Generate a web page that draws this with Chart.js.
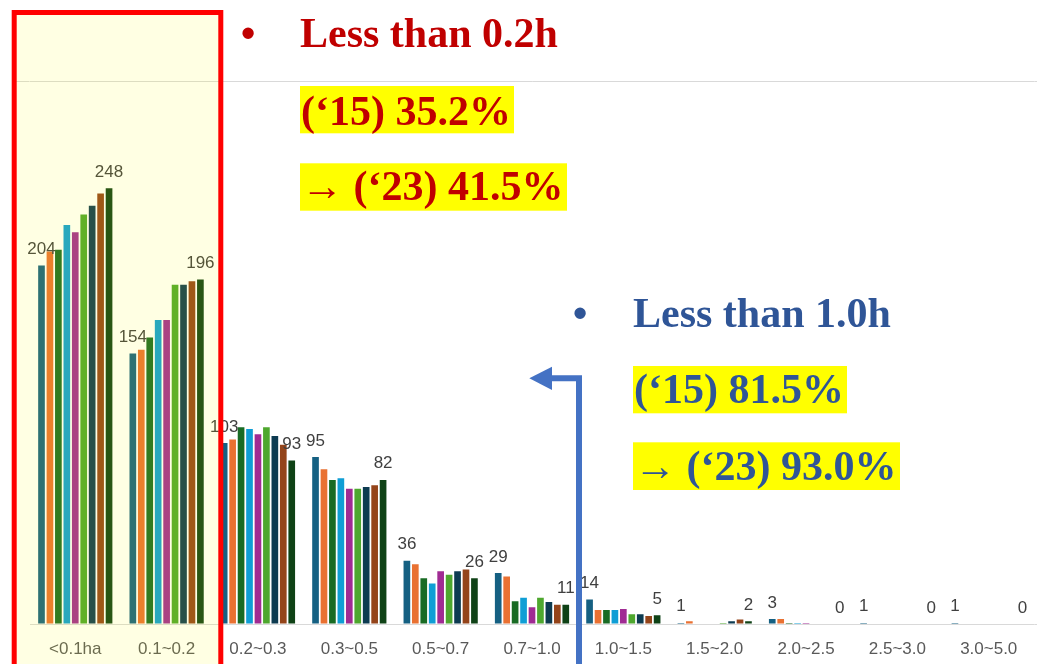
<!DOCTYPE html>
<html><head><meta charset="utf-8">
<script src="https://cdn.jsdelivr.net/npm/chart.js@4.4.1/dist/chart.umd.min.js"></script>
<style>html,body{margin:0;padding:0;background:#fff;overflow:hidden}canvas{display:block}</style>
</head><body>
<canvas id="c" width="1037" height="664"></canvas>
<script>
// ---- data ----
const categories = ['<0.1ha','0.1~0.2','0.2~0.3','0.3~0.5','0.5~0.7','0.7~1.0','1.0~1.5','1.5~2.0','2.0~2.5','2.5~3.0','3.0~5.0'];
const years = ['2015','2016','2017','2018','2019','2020','2021','2022','2023'];
const v2015 = [204,154,103,95,36,29,14,0.6,2.8,0.6,0.6];
const v2016 = [212,156,105,88,34,27,8,1.5,2.8,0,0];
const v2017 = [213,163,112,82,26,13,8,0,0.6,0,0];
const v2018 = [227,173,111,83,23,15,8,0,0.5,0,0];
const v2019 = [223,173,108,77,30,9.5,8.5,0,0.5,0,0];
const v2020 = [233,193,112,77,28,15,5.5,0.6,0,0,0];
const v2021 = [238,193,107,78,30,12.5,5.5,1.5,0,0,0];
const v2022 = [245,195,102,79,31,11,4.5,2.6,0,0,0];
const v2023 = [248,196,93,82,26,11,5,1.6,0,0,0];
const seriesValues = [v2015,v2016,v2017,v2018,v2019,v2020,v2021,v2022,v2023];
const seriesColors = ['#156082','#E97132','#196B24','#0F9ED5','#A02B93','#4EA72E','#0D3B51','#94441A','#0F4216'];
const yMax = 309;
const labeledSeries = [0, 8];
const redNotes = ['Less than 0.2h', '(\u201815) 35.2%', '\u2192 (\u201823) 41.5%'];
const blueNotes = ['Less than 1.0h', '(\u201815) 81.5%', '\u2192 (\u201823) 93.0%'];

// ---- plugins ----
const valueLabels = {
  id: 'valueLabels',
  afterDatasetsDraw(chart) {
    const ctx = chart.ctx;
    ctx.save();
    ctx.font = '17px "Liberation Sans", Arial, sans-serif';
    ctx.fillStyle = '#404040';
    ctx.textAlign = 'center';
    ctx.textBaseline = 'alphabetic';
    labeledSeries.forEach(di => {
      const meta = chart.getDatasetMeta(di);
      meta.data.forEach((bar, i) => {
        const v = chart.data.datasets[di].data[i];
        ctx.fillText(String(Math.round(v)), bar.x, bar.y - 11.5);
      });
    });
    ctx.restore();
  }
};

const overlay = {
  id: 'overlay',
  afterDraw(chart) {
    const ctx = chart.ctx;
    const ca = chart.chartArea;
    const yTop = Math.round(chart.scales.y.getPixelForValue(yMax)) + 0.5;
    const yBase = Math.round(chart.scales.y.getPixelForValue(0)) + 0.5;
    ctx.save();
    // gridline extensions
    ctx.strokeStyle = '#D9D9D9';
    ctx.lineWidth = 1;
    ctx.beginPath();
    ctx.moveTo(16, yTop); ctx.lineTo(ca.left, yTop);
    ctx.moveTo(ca.right, yTop); ctx.lineTo(1037, yTop);
    ctx.moveTo(ca.right, yBase); ctx.lineTo(1037, yBase);
    ctx.stroke();
    // highlighted region
    ctx.fillStyle = 'rgba(255,255,0,0.11)';
    ctx.fillRect(12, 10, 211, 700);
    ctx.strokeStyle = '#FF0000';
    ctx.lineWidth = 5;
    ctx.strokeRect(14.2, 12.5, 206.6, 700);

    // notes
    ctx.font = 'bold 42px "Liberation Serif", "Times New Roman", serif';
    ctx.textBaseline = 'alphabetic';
    // red
    ctx.fillStyle = '#FFFF00';
    ctx.fillRect(300, 86, 214, 47.3);
    ctx.fillRect(300, 163.3, 267, 47.4);
    ctx.fillStyle = '#C00000';
    ctx.textAlign = 'center';
    ctx.fillText('\u2022', 248, 46.7);
    ctx.textAlign = 'left';
    ctx.fillText(redNotes[0], 300, 46.7);
    ctx.fillText(redNotes[1], 301, 125);
    ctx.fillText(redNotes[2], 301, 200);
    // blue
    ctx.fillStyle = '#FFFF00';
    ctx.fillRect(633, 366, 214, 47.3);
    ctx.fillRect(633, 442.3, 267, 47.7);
    ctx.fillStyle = '#2F5597';
    ctx.textAlign = 'center';
    ctx.fillText('\u2022', 580, 326.7);
    ctx.textAlign = 'left';
    ctx.fillText(blueNotes[0], 633, 326.7);
    ctx.fillText(blueNotes[1], 634, 403.4);
    ctx.fillText(blueNotes[2], 634, 479.7);

    // arrow
    ctx.strokeStyle = '#4472C4';
    ctx.fillStyle = '#4472C4';
    ctx.lineWidth = 6;
    ctx.lineJoin = 'miter';
    ctx.beginPath();
    ctx.moveTo(579, 680);
    ctx.lineTo(579, 378.3);
    ctx.lineTo(550, 378.3);
    ctx.stroke();
    ctx.beginPath();
    ctx.moveTo(529.3, 378.3);
    ctx.lineTo(552, 366.7);
    ctx.lineTo(552, 390);
    ctx.closePath();
    ctx.fill();
    ctx.restore();
  }
};

// ---- chart ----
const datasets = seriesValues.map((vals, i) => ({
  label: years[i],
  data: vals,
  backgroundColor: seriesColors[i],
  borderWidth: 0,
  categoryPercentage: 0.832,
  barPercentage: 0.79
}));

new Chart(document.getElementById('c'), {
  type: 'bar',
  data: { labels: categories, datasets },
  options: {
    responsive: false,
    animation: false,
    devicePixelRatio: 1,
    layout: { padding: { left: 29.6, right: 2.6, top: 81, bottom: 0 } },
    plugins: { legend: { display: false }, tooltip: { enabled: false } },
    scales: {
      x: {
        grid: { display: false, drawTicks: false },
        border: { display: false },
        ticks: {
          color: '#595959',
          font: { family: '"Liberation Sans", Arial, sans-serif', size: 17 },
          padding: 15,
          maxRotation: 0,
          autoSkip: false
        },
        afterFit(scale) { scale.height = 40; }
      },
      y: {
        min: 0,
        max: yMax,
        grid: { color: '#D9D9D9', drawTicks: false },
        border: { display: false },
        ticks: { display: false },
        afterBuildTicks(axis) { axis.ticks = [{ value: 0 }, { value: yMax }]; },
        afterFit(scale) { scale.width = 0; }
      }
    }
  },
  plugins: [valueLabels, overlay]
});
</script>
</body></html>
